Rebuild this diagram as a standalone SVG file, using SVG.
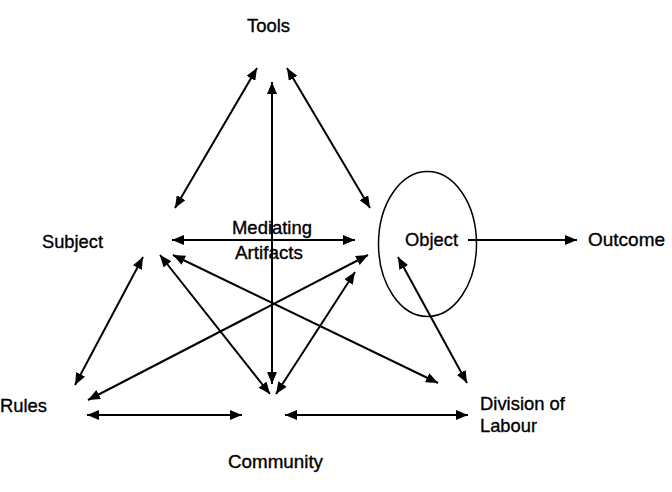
<svg xmlns="http://www.w3.org/2000/svg" width="672" height="492" viewBox="0 0 672 492">
<style>
text{font-family:"Liberation Sans",Arial,sans-serif;font-size:19px;fill:#000;stroke:#000;stroke-width:0.35}
.c line{stroke:#000;stroke-width:2;fill:none}
.d{marker-start:url(#ah);marker-end:url(#ah)}
.s{marker-end:url(#ah)}
</style>
<defs>
<marker id="ah" viewBox="0 0 12 10" refX="12" refY="5" markerWidth="12" markerHeight="10" markerUnits="userSpaceOnUse" orient="auto-start-reverse">
<path d="M0,0 L12,5 L0,10 Z" fill="#000"/>
</marker>
</defs>
<rect width="672" height="492" fill="#fff"/>
<g class="c" id="connectors">
<line class="d" x1="257" y1="68" x2="175" y2="208"/>
<line class="d" x1="287" y1="68" x2="370" y2="208"/>
<line class="d" x1="272" y1="82" x2="272" y2="384"/>
<line class="d" x1="172" y1="240" x2="355" y2="240"/>
<line class="d" x1="143" y1="257" x2="75" y2="385"/>
<line class="d" x1="160" y1="255" x2="270" y2="394"/>
<line class="d" x1="173" y1="255" x2="438" y2="383"/>
<line class="d" x1="88" y1="400" x2="368" y2="255"/>
<line class="d" x1="276" y1="394" x2="355" y2="272"/>
<line class="d" x1="87" y1="415" x2="242" y2="415"/>
<line class="d" x1="285" y1="415" x2="468" y2="415"/>
<line class="d" x1="398" y1="257" x2="467" y2="383"/>
<line class="s" x1="468" y1="240" x2="577" y2="240"/>
</g>
<g id="tools"><text x="247" y="32" textLength="43" lengthAdjust="spacingAndGlyphs">Tools</text></g>
<g id="subject"><text x="42" y="248" textLength="61" lengthAdjust="spacingAndGlyphs">Subject</text></g>
<g id="mediating"><text x="232" y="234" textLength="80" lengthAdjust="spacingAndGlyphs">Mediating</text><text x="235" y="259" textLength="68" lengthAdjust="spacingAndGlyphs">Artifacts</text></g>
<g id="object"><ellipse cx="427.5" cy="244" rx="49" ry="72.5" fill="none" stroke="#000" stroke-width="1.5"/><text x="405" y="246" textLength="53" lengthAdjust="spacingAndGlyphs">Object</text></g>
<g id="outcome"><text x="588" y="246" textLength="77" lengthAdjust="spacingAndGlyphs">Outcome</text></g>
<g id="rules"><text x="0" y="412" textLength="47" lengthAdjust="spacingAndGlyphs">Rules</text></g>
<g id="community"><text x="228" y="468" textLength="95" lengthAdjust="spacingAndGlyphs">Community</text></g>
<g id="division"><text x="480" y="410" textLength="85" lengthAdjust="spacingAndGlyphs">Division of</text><text x="480" y="432" textLength="57" lengthAdjust="spacingAndGlyphs">Labour</text></g>
</svg>
